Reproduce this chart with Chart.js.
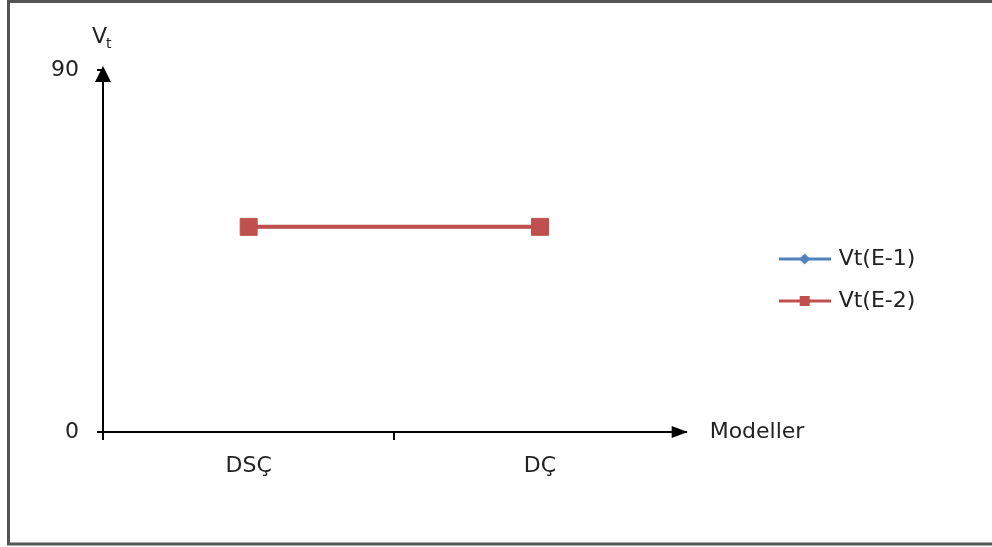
<!DOCTYPE html>
<html><head><meta charset="utf-8">
<script src="https://cdn.jsdelivr.net/npm/chart.js@4"></script>
<style>html,body{margin:0;padding:0;background:#fff;overflow:hidden}#wrap{width:992px;height:547px;position:relative}canvas{display:block}</style>
</head><body><div id="wrap"><canvas id="c" width="992" height="547"></canvas></div>
<script>
const categories = ['DSÇ', 'DÇ'];
const seriesNames = ['Vt(E-1)', 'Vt(E-2)'];
const vtE1 = [51, 51];
const vtE2 = [51, 51];
const yTicks = [0, 90];
const yTitleMain = 'V';
const yTitleSub = 't';
const xTitle = 'Modeller';

const FONT = 'DejaVu Sans';
const TEXT = '#222';
const BLUE = '#4f81bd';
const RED = '#c0504d';

function makeIcon(color, style) {
  const c = document.createElement('canvas');
  c.width = 52; c.height = 14;
  const g = c.getContext('2d');
  g.strokeStyle = color; g.lineWidth = 3;
  g.beginPath(); g.moveTo(0, 7); g.lineTo(52, 7); g.stroke();
  g.fillStyle = color;
  if (style === 'rectRot') {
    g.beginPath(); g.moveTo(26, 1.5); g.lineTo(31.5, 7); g.lineTo(26, 12.5); g.lineTo(20.5, 7); g.closePath(); g.fill();
  } else {
    g.fillRect(21, 2, 10, 10);
  }
  return c;
}
const icons = [makeIcon(BLUE, 'rectRot'), makeIcon(RED, 'rect')];

const deco = {
  id: 'deco',
  beforeDraw(chart) {
    const ctx = chart.ctx;
    ctx.save();
    ctx.strokeStyle = '#555';
    ctx.lineWidth = 3;
    ctx.strokeRect(8.5, 1.5, 1100, 542.5);
    ctx.restore();
  },
  afterDraw(chart) {
    const {ctx, chartArea: a} = chart;
    ctx.save();
    ctx.fillStyle = '#000';
    ctx.beginPath();
    ctx.moveTo(a.left, a.top - 4);
    ctx.lineTo(a.left - 8, a.top + 12);
    ctx.lineTo(a.left + 8, a.top + 12);
    ctx.closePath(); ctx.fill();
    ctx.beginPath();
    ctx.moveTo(a.right + 2, a.bottom);
    ctx.lineTo(a.right - 14, a.bottom - 6);
    ctx.lineTo(a.right - 14, a.bottom + 6);
    ctx.closePath(); ctx.fill();
    ctx.fillStyle = TEXT;
    ctx.textAlign = 'left';
    ctx.textBaseline = 'alphabetic';
    ctx.font = '22px "' + FONT + '"';
    ctx.fillText(yTitleMain, 92, 43);
    ctx.font = '14px "' + FONT + '"';
    ctx.fillText(yTitleSub, 106, 48);
    ctx.font = '22px "' + FONT + '"';
    ctx.textBaseline = 'middle';
    ctx.fillText(xTitle, a.right + 24, a.bottom);
    ctx.restore();
  }
};

new Chart(document.getElementById('c'), {
  type: 'line',
  data: {
    labels: categories,
    datasets: [
      { label: seriesNames[0], data: vtE1, borderColor: BLUE, backgroundColor: BLUE,
        pointStyle: 'rectRot', pointRadius: 7, pointBorderWidth: 1, borderWidth: 3, order: 1 },
      { label: seriesNames[1], data: vtE2, borderColor: RED, backgroundColor: RED,
        pointStyle: 'rect', pointRadius: 12, pointBorderWidth: 1, borderWidth: 4, order: 0 }
    ]
  },
  options: {
    responsive: false,
    animation: false,
    devicePixelRatio: 1,
    layout: { padding: { top: 70, bottom: 57, left: 0, right: 78 } },
    plugins: {
      tooltip: { enabled: false },
      legend: {
        position: 'right',
        align: 'center',
        labels: {
          usePointStyle: true,
          pointStyleWidth: 46,
          padding: 20,
          color: TEXT,
          font: { family: FONT, size: 22 },
          sort: (a, b) => a.datasetIndex - b.datasetIndex,
          generateLabels(chart) {
            const items = Chart.defaults.plugins.legend.labels.generateLabels(chart);
            items.forEach(it => { it.pointStyle = icons[it.datasetIndex]; });
            return items;
          }
        }
      }
    },
    scales: {
      x: {
        type: 'category',
        offset: true,
        grid: { offset: true, drawOnChartArea: false, tickLength: 8, lineWidth: 2,
                color: (c) => ((c.index === undefined || c.index >= categories.length) ? 'rgba(0,0,0,0)' : '#000') },
        border: { color: '#000', width: 2 },
        ticks: { color: TEXT, font: { family: FONT, size: 22 }, padding: 13, maxRotation: 0 },
        afterFit(s) { s.height = 58; }
      },
      y: {
        type: 'linear',
        min: 0, max: 90,
        afterBuildTicks(s) { s.ticks = yTicks.map(v => ({ value: v })); },
        grid: { drawOnChartArea: false, tickLength: 6, color: '#000', lineWidth: 2 },
        border: { color: '#000', width: 2 },
        ticks: { color: TEXT, font: { family: FONT, size: 22 }, padding: 18 },
        afterFit(s) { s.width = 103; }
      },
      gap: {
        type: 'linear',
        position: 'right',
        display: true,
        grid: { display: false },
        border: { display: false },
        ticks: { display: false },
        afterFit(s) { s.width = 76; }
      }
    }
  },
  plugins: [deco]
});
</script>
</body></html>
